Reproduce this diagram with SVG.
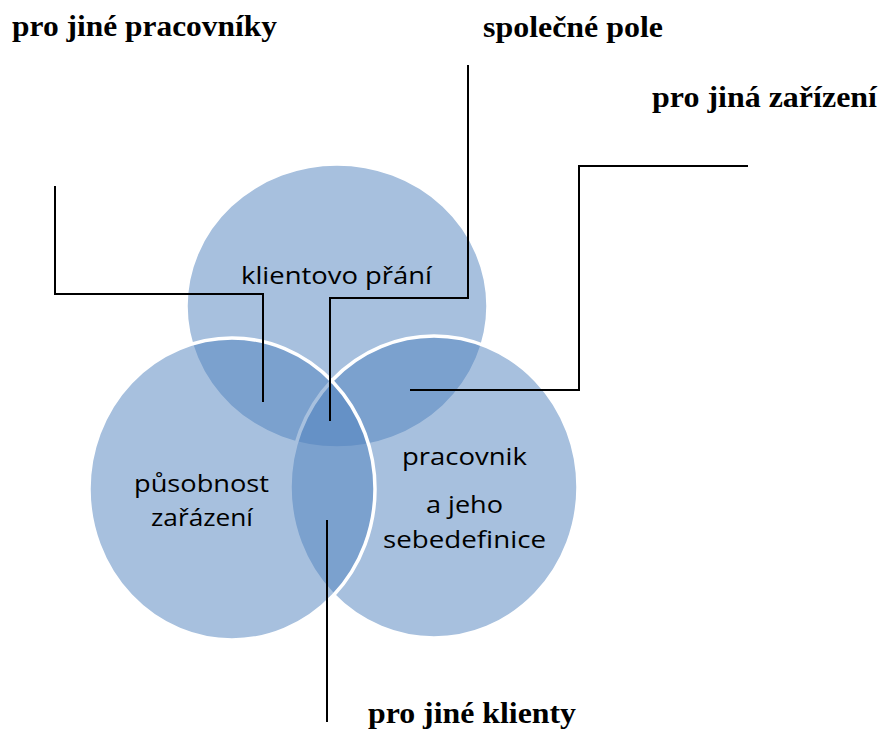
<svg xmlns="http://www.w3.org/2000/svg" width="880" height="731" viewBox="0 0 880 731">
<style>
.c{fill:#4F81BD;fill-opacity:0.5;stroke:#FFFFFF;stroke-width:3.5}
.t{font-family:"Open Sans","Noto Sans","Liberation Sans",sans-serif;font-size:24px;fill:#000000;text-anchor:start}
.h{font-family:"Liberation Serif","Times New Roman",serif;font-weight:bold;font-size:30px;fill:#000000}
.l{fill:none;stroke:#000000;stroke-width:2}
</style>
<rect width="880" height="731" fill="#FFFFFF"/>
<g id="node-top">
<ellipse class="c" cx="337" cy="306" rx="151" ry="142"/>
<text class="t" x="241" y="284" textLength="191" lengthAdjust="spacingAndGlyphs">klientovo přání</text>
</g>
<g id="node-right">
<ellipse class="c" cx="434" cy="487" rx="144" ry="151"/>
<text class="t" x="402" y="465" textLength="125" lengthAdjust="spacingAndGlyphs">pracovnik</text>
<text class="t" x="426" y="513" textLength="77" lengthAdjust="spacingAndGlyphs">a jeho</text>
<text class="t" x="383" y="548" textLength="163" lengthAdjust="spacingAndGlyphs">sebedefinice</text>
</g>
<g id="node-left">
<ellipse class="c" cx="232" cy="489" rx="143" ry="151"/>
<text class="t" x="134" y="492" textLength="135" lengthAdjust="spacingAndGlyphs">působnost</text>
<text class="t" x="151" y="526" textLength="102" lengthAdjust="spacingAndGlyphs">zařázení</text>
</g>
<g id="connectors">
<polyline class="l" points="55,186 55,294 263,294 263,402"/>
<polyline class="l" points="468,65 468,298 330,298 330,421"/>
<polyline class="l" points="748,166 579,166 579,390 410,390"/>
<line class="l" x1="327" y1="520" x2="327" y2="722"/>
</g>
<g id="label-pracovniky">
<text class="h" x="12" y="36" textLength="265" lengthAdjust="spacingAndGlyphs">pro jiné pracovníky</text>
</g>
<g id="label-spolecne">
<text class="h" x="483" y="37" textLength="180" lengthAdjust="spacingAndGlyphs">společné pole</text>
</g>
<g id="label-zarizeni">
<text class="h" x="652" y="107" textLength="225" lengthAdjust="spacingAndGlyphs">pro jiná zařízení</text>
</g>
<g id="label-klienty">
<text class="h" x="368" y="723" textLength="208" lengthAdjust="spacingAndGlyphs">pro jiné klienty</text>
</g>
</svg>
